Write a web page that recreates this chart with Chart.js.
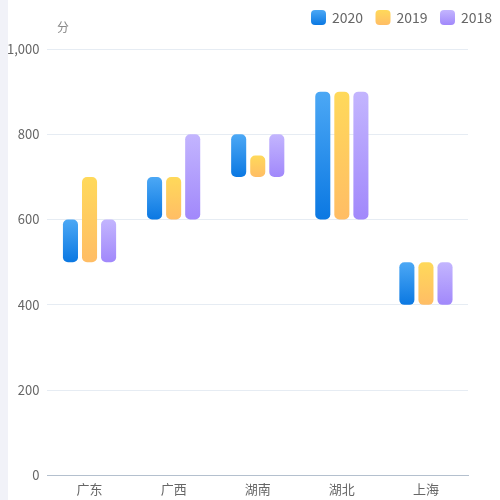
<!DOCTYPE html>
<html>
<head>
<meta charset="utf-8">
<script src="https://cdn.jsdelivr.net/npm/chart.js@4/dist/chart.umd.min.js"></script>
<style>
  html, body { margin: 0; padding: 0; background: #fff; }
  #wrap { position: relative; width: 500px; height: 500px; }
  #strip { position: absolute; left: 0; top: 0; width: 8px; height: 500px; background: #f1f2f8; }
  #c { position: absolute; left: 0; top: 0; }
</style>
</head>
<body>
<div id="wrap">
  <canvas id="c" width="500" height="500"></canvas>
  <div id="strip"></div>
</div>
<script>
const categories = ['广东', '广西', '湖南', '湖北', '上海'];
const seriesNames = ['2020', '2019', '2018'];
const values2020 = [[500, 600], [600, 700], [700, 800], [600, 900], [400, 500]];
const values2019 = [[500, 700], [600, 700], [700, 750], [600, 900], [400, 500]];
const values2018 = [[500, 600], [600, 800], [700, 800], [600, 900], [400, 500]];
const yTicks = [0, 200, 400, 600, 800, 1000];
const unitLabel = '分';

const gradColors = [
  ['#4ca8f5', '#0b78e2'],
  ['#ffd95a', '#ffbd65'],
  ['#c3b5fe', '#a188fb']
];

const FONT = '"Noto Sans CJK SC", "Noto Sans", sans-serif';

function barGradient(idx) {
  return function (context) {
    const chart = context.chart;
    const { ctx, chartArea, scales } = chart;
    if (!chartArea) return gradColors[idx][1];
    const raw = context.raw;
    if (!raw || !Array.isArray(raw)) return gradColors[idx][1];
    const yTop = scales.y.getPixelForValue(Math.max(raw[0], raw[1]));
    const yBot = scales.y.getPixelForValue(Math.min(raw[0], raw[1]));
    const g = ctx.createLinearGradient(0, yTop, 0, yBot);
    g.addColorStop(0, gradColors[idx][0]);
    g.addColorStop(1, gradColors[idx][1]);
    return g;
  };
}

const allValues = [values2020, values2019, values2018];
const datasets = seriesNames.map((name, i) => ({
  label: name,
  data: allValues[i],
  backgroundColor: barGradient(i),
  borderRadius: 5,
  borderSkipped: false,
  categoryPercentage: 0.68,
  barPercentage: 0.79
}));

function roundRect(ctx, x, y, w, h, r) {
  ctx.beginPath();
  ctx.moveTo(x + r, y);
  ctx.lineTo(x + w - r, y);
  ctx.quadraticCurveTo(x + w, y, x + w, y + r);
  ctx.lineTo(x + w, y + h - r);
  ctx.quadraticCurveTo(x + w, y + h, x + w - r, y + h);
  ctx.lineTo(x + r, y + h);
  ctx.quadraticCurveTo(x, y + h, x, y + h - r);
  ctx.lineTo(x, y + r);
  ctx.quadraticCurveTo(x, y, x + r, y);
  ctx.closePath();
}

const legendAndUnitPlugin = {
  id: 'legendAndUnit',
  afterDraw(chart) {
    const ctx = chart.ctx;
    ctx.save();
    // unit label
    ctx.fillStyle = '#888';
    ctx.font = '12px ' + FONT;
    ctx.textAlign = 'center';
    ctx.textBaseline = 'middle';
    ctx.fillText(unitLabel, 63, 27);
    // legend
    const startX = 311, step = 64.5, boxY = 10, box = 15;
    chart.data.datasets.forEach((ds, i) => {
      const x = startX + i * step;
      const g = ctx.createLinearGradient(0, boxY, 0, boxY + box);
      g.addColorStop(0, gradColors[i][0]);
      g.addColorStop(1, gradColors[i][1]);
      ctx.fillStyle = g;
      roundRect(ctx, x, boxY, box, box, 4);
      ctx.fill();
      ctx.fillStyle = '#666';
      ctx.font = '14px ' + FONT;
      ctx.textAlign = 'left';
      ctx.textBaseline = 'middle';
      ctx.fillText(ds.label, x + 21, boxY + box / 2);
    });
    ctx.restore();
  }
};

const ctx = document.getElementById('c').getContext('2d');
new Chart(ctx, {
  type: 'bar',
  data: { labels: categories, datasets },
  options: {
    responsive: false,
    animation: false,
    layout: { padding: { left: -1, right: 32, top: 49, bottom: -3 } },
    plugins: {
      tooltip: { enabled: false },
      legend: { display: false }
    },
    scales: {
      x: {
        grid: { display: false, drawTicks: false },
        border: { display: true, color: '#b4c0ce' },
        ticks: { color: '#666', font: { size: 13, family: FONT }, padding: 6 }
      },
      y: {
        min: 0,
        max: 1000,
        afterBuildTicks(axis) { axis.ticks = yTicks.map(v => ({ value: v })); },
        grid: { color: '#e6ecf3', drawTicks: false },
        border: { display: false },
        ticks: { color: '#666', font: { size: 13, family: FONT }, padding: 8 }
      }
    }
  },
  plugins: [legendAndUnitPlugin]
});
</script>
</body>
</html>
